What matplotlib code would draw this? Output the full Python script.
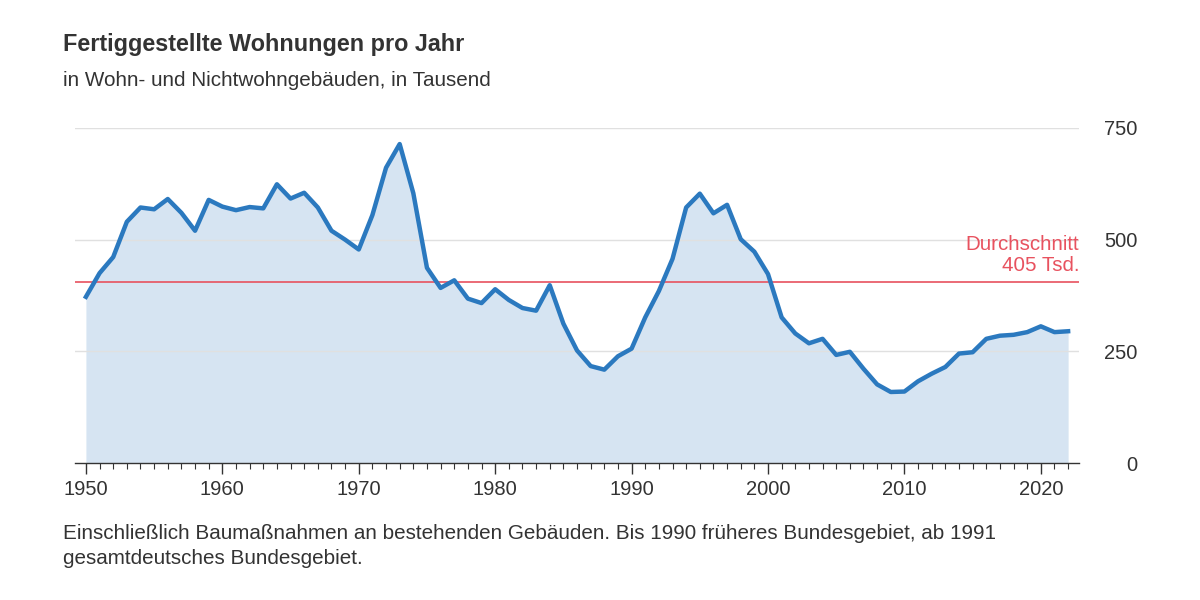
import numpy as np
import matplotlib
matplotlib.use("Agg")
import matplotlib.pyplot as plt
from matplotlib.ticker import MultipleLocator
from matplotlib.transforms import blended_transform_factory

plt.rcParams['font.family'] = ['Liberation Sans', 'DejaVu Sans']

# Fertiggestellte Wohnungen in Tausend
years = list(range(1950, 2023))
values = [372, 425, 461, 540, 572, 568, 591, 560, 520, 589,
          574, 566, 573, 570, 624, 592, 605, 572, 520, 500,
          478, 555, 661, 714, 604, 437, 392, 409, 368, 358,
          389, 365, 347, 341, 398, 312, 252, 217, 209, 239,
          256, 326, 385, 457, 572, 603, 559, 578, 501, 473,
          423, 326, 290, 268, 278, 242, 249, 211, 176, 159,
          160, 183, 200, 215, 245, 248, 278, 285, 287, 293,
          306, 293, 295]
average = 405
y_ticks = [0, 250, 500, 750]
x_ticks = [1950, 1960, 1970, 1980, 1990, 2000, 2010, 2020]

text_col = '#333333'
blue = '#2b79bf'
fill_col = '#d6e4f2'
red = '#e8525f'

fig = plt.figure(figsize=(12, 6), dpi=100)
ax = fig.add_axes([0.0625, 0.2283, 0.8367, 0.5584])

ax.fill_between(years, values, 0, color=fill_col, lw=0, zorder=1)
for t in y_ticks[1:]:
    ax.axhline(t, color='#e0e0e0', lw=1, zorder=2)
ax.axhline(average, color=red, lw=1.2, zorder=3)
ax.plot(years, values, color=blue, lw=3.2, zorder=4, solid_joinstyle='round')

ax.set_xlim(1949.2, 2022.8)
ax.set_ylim(0, 750)

for s in ['top', 'left', 'right']:
    ax.spines[s].set_visible(False)
ax.spines['bottom'].set_color(text_col)
ax.spines['bottom'].set_linewidth(1)
ax.spines['bottom'].set_zorder(5)

ax.set_xticks(x_ticks)
ax.xaxis.set_minor_locator(MultipleLocator(1))
ax.tick_params(axis='x', which='major', length=8, width=1, color=text_col,
               labelsize=14.5, labelcolor=text_col, pad=4)
ax.tick_params(axis='x', which='minor', length=4, width=0.8, color=text_col)

# y labels right-aligned at ~1137 px
ax.yaxis.tick_right()
ax.set_yticks(y_ticks)
ax.tick_params(axis='y', length=0, labelsize=14.5, labelcolor=text_col, pad=42)
for lab in ax.get_yticklabels():
    lab.set_horizontalalignment('right')

trans = blended_transform_factory(ax.transAxes, ax.transData)
ax.text(1.0, average + 16, 'Durchschnitt\n405 Tsd.', transform=trans,
        ha='right', va='bottom', color=red, fontsize=14.8, linespacing=1.15)

fig.text(63 / 1200, 1 - 45 / 600, 'Fertiggestellte Wohnungen pro Jahr',
         fontsize=16.8, fontweight='bold', color=text_col, va='center')
fig.text(63 / 1200, 1 - 80 / 600, 'in Wohn- und Nichtwohngebäuden, in Tausend',
         fontsize=14.9, color=text_col, va='center')
fig.text(63 / 1200, 1 - 546 / 600,
         'Einschließlich Baumaßnahmen an bestehenden Gebäuden. Bis 1990 früheres '
         'Bundesgebiet, ab 1991\ngesamtdeutsches Bundesgebiet.',
         fontsize=14.9, color=text_col, va='center', linespacing=1.35)

fig.savefig('out.png', dpi=100, facecolor='white')
